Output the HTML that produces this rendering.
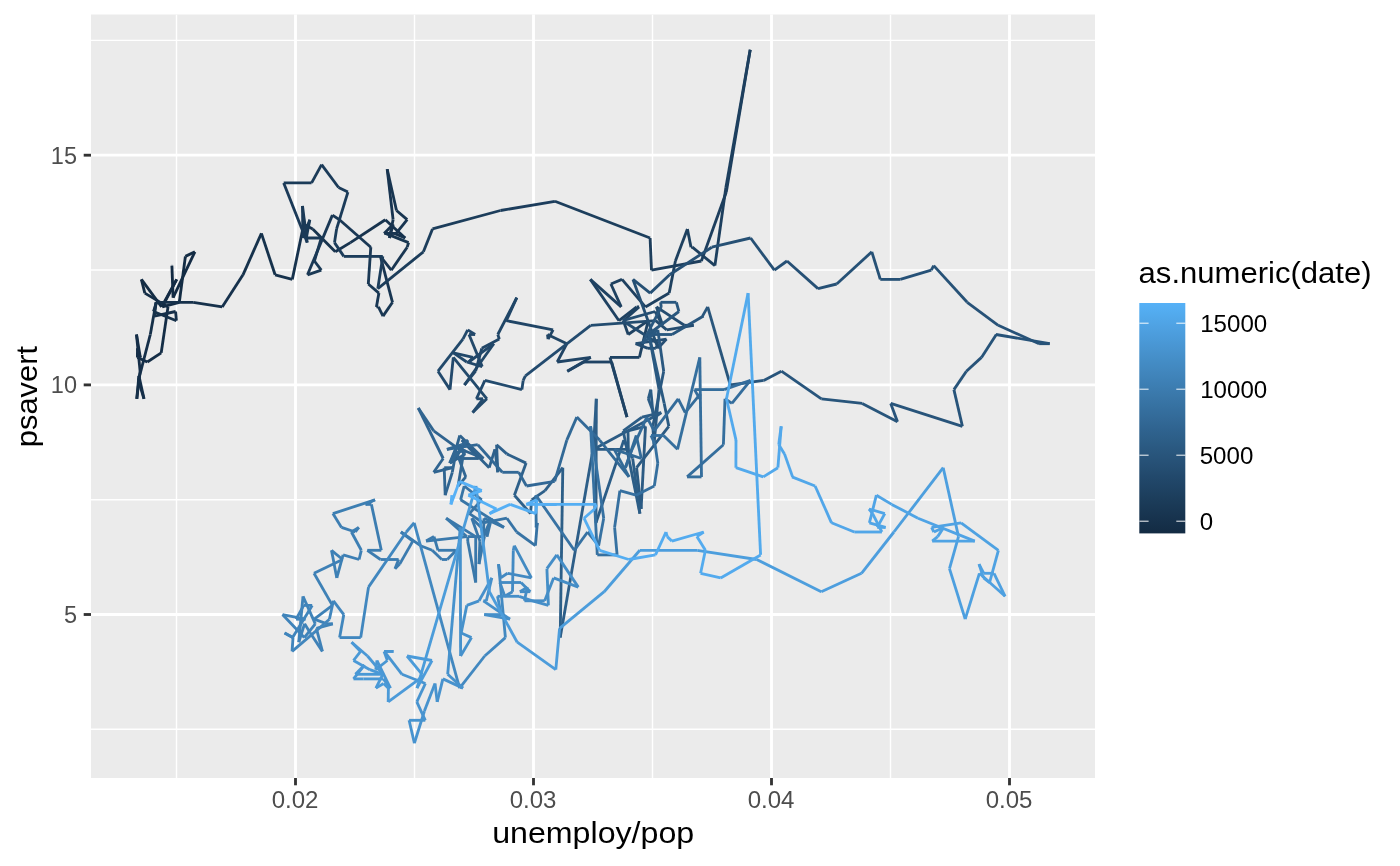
<!DOCTYPE html>
<html><head><meta charset="utf-8"><title>plot</title>
<style>
html,body{margin:0;padding:0;background:#fff;}
body{width:1400px;height:866px;overflow:hidden;position:relative;font-family:"Liberation Sans",sans-serif;}
svg{position:absolute;left:0;top:0;display:block}
.ax{font-size:23.5px;fill:#4d4d4d;}
.ti{font-size:30px;fill:#000;}
.lg{font-size:23.5px;fill:#000;}
</style></head><body>
<svg width="1400" height="866" viewBox="0 0 1400 866" font-family="'Liberation Sans', sans-serif">
<defs>
<linearGradient id="g" x1="0" y1="0" x2="0" y2="1">
<stop offset="0%" stop-color="#56b1f7"/><stop offset="5%" stop-color="#52aaed"/><stop offset="10%" stop-color="#4fa2e3"/><stop offset="15%" stop-color="#4b9bda"/><stop offset="20%" stop-color="#4894d0"/><stop offset="25%" stop-color="#448dc6"/><stop offset="30%" stop-color="#4186bd"/><stop offset="35%" stop-color="#3d7fb4"/><stop offset="40%" stop-color="#3a78aa"/><stop offset="45%" stop-color="#3671a1"/><stop offset="50%" stop-color="#336a98"/><stop offset="55%" stop-color="#2f638f"/><stop offset="60%" stop-color="#2c5d86"/><stop offset="65%" stop-color="#29567d"/><stop offset="70%" stop-color="#265075"/><stop offset="75%" stop-color="#22496c"/><stop offset="80%" stop-color="#1f4364"/><stop offset="85%" stop-color="#1c3d5b"/><stop offset="90%" stop-color="#193753"/><stop offset="95%" stop-color="#16314b"/><stop offset="100%" stop-color="#132b43"/>
</linearGradient>
<clipPath id="cp"><rect x="91" y="14.5" width="1004" height="763.5"/></clipPath>
</defs>
<rect x="0" y="0" width="1400" height="866" fill="#ffffff"/>
<rect x="91" y="14.5" width="1004" height="763.5" fill="#ebebeb"/>
<g stroke="#ffffff" stroke-width="1.42" clip-path="url(#cp)" >
<line x1="91" x2="1095" y1="40.4" y2="40.4"/>
<line x1="91" x2="1095" y1="270" y2="270"/>
<line x1="91" x2="1095" y1="499.7" y2="499.7"/>
<line x1="91" x2="1095" y1="729.3" y2="729.3"/>
<line y1="14.5" y2="778" x1="176.5" x2="176.5"/>
<line y1="14.5" y2="778" x1="414.5" x2="414.5"/>
<line y1="14.5" y2="778" x1="652.5" x2="652.5"/>
<line y1="14.5" y2="778" x1="890.5" x2="890.5"/>
</g>
<g stroke="#ffffff" stroke-width="2.84">
<line x1="91" x2="1095" y1="155.2" y2="155.2"/>
<line x1="91" x2="1095" y1="384.9" y2="384.9"/>
<line x1="91" x2="1095" y1="614.5" y2="614.5"/>
<line y1="14.5" y2="778" x1="295.5" x2="295.5"/>
<line y1="14.5" y2="778" x1="533.5" x2="533.5"/>
<line y1="14.5" y2="778" x1="771.5" x2="771.5"/>
<line y1="14.5" y2="778" x1="1009.5" x2="1009.5"/>
</g>
<g stroke="#333333" stroke-width="2.84">
<line x1="83.7" x2="91" y1="155.2" y2="155.2"/>
<line x1="83.7" x2="91" y1="384.9" y2="384.9"/>
<line x1="83.7" x2="91" y1="614.5" y2="614.5"/>
<line y1="778" y2="785.3" x1="295.5" x2="295.5"/>
<line y1="778" y2="785.3" x1="533.5" x2="533.5"/>
<line y1="778" y2="785.3" x1="771.5" x2="771.5"/>
<line y1="778" y2="785.3" x1="1009.5" x2="1009.5"/>
</g>
<g class="ax" text-anchor="end">
<text x="77" y="163.7">15</text>
<text x="77" y="393.4">10</text>
<text x="77" y="623">5</text>
</g>
<g class="ax" text-anchor="middle">
<text x="295.1" y="807.9" textLength="46.8" lengthAdjust="spacingAndGlyphs">0.02</text>
<text x="533.1" y="807.9" textLength="46.8" lengthAdjust="spacingAndGlyphs">0.03</text>
<text x="771.1" y="807.9" textLength="46.8" lengthAdjust="spacingAndGlyphs">0.04</text>
<text x="1009.1" y="807.9" textLength="46.8" lengthAdjust="spacingAndGlyphs">0.05</text>
</g>
<text class="ti" x="492.2" y="842.9" textLength="202" lengthAdjust="spacingAndGlyphs">unemploy/pop</text>
<text class="ti" transform="translate(37.0,447.3) rotate(-90)" textLength="101.5" lengthAdjust="spacingAndGlyphs">psavert</text>
<text class="ti" x="1138.6" y="283.3" textLength="233" lengthAdjust="spacingAndGlyphs">as.numeric(date)</text>
<rect x="1139.3" y="303" width="46" height="230.4" fill="url(#g)"/>
<g stroke="#ffffff" stroke-width="1.07" opacity="0.9">
<line x1="1139.4" x2="1148.6" y1="323.2" y2="323.2"/><line x1="1176.3" x2="1185.5" y1="323.2" y2="323.2"/>
<line x1="1139.4" x2="1148.6" y1="389.2" y2="389.2"/><line x1="1176.3" x2="1185.5" y1="389.2" y2="389.2"/>
<line x1="1139.4" x2="1148.6" y1="455.2" y2="455.2"/><line x1="1176.3" x2="1185.5" y1="455.2" y2="455.2"/>
<line x1="1139.4" x2="1148.6" y1="521.2" y2="521.2"/><line x1="1176.3" x2="1185.5" y1="521.2" y2="521.2"/>
</g>
<g class="lg">
<text x="1200.2" y="331.9" textLength="67" lengthAdjust="spacingAndGlyphs">15000</text>
<text x="1200.2" y="397.9" textLength="67" lengthAdjust="spacingAndGlyphs">10000</text>
<text x="1199.7" y="463.8" textLength="53.6" lengthAdjust="spacingAndGlyphs">5000</text>
<text x="1199.7" y="529.7" textLength="13.4" lengthAdjust="spacingAndGlyphs">0</text>
</g>
<g stroke-width="2.84" stroke-linecap="butt" fill="none" clip-path="url(#cp)">
<line x1="172.1" y1="265.6" x2="171.9" y2="265.6" stroke="#132b43"/>
<line x1="171.9" y1="265.6" x2="173.1" y2="297.7" stroke="#132b43"/>
<line x1="173.1" y1="297.7" x2="194.9" y2="251.8" stroke="#132b44"/>
<line x1="194.9" y1="251.8" x2="185.4" y2="256.4" stroke="#132c44"/>
<line x1="185.4" y1="256.4" x2="179.3" y2="302.3" stroke="#132c44"/>
<line x1="179.3" y1="302.3" x2="162.3" y2="306.9" stroke="#142c44"/>
<line x1="162.3" y1="306.9" x2="176.7" y2="279.4" stroke="#142c45"/>
<line x1="176.7" y1="279.4" x2="161.6" y2="306.9" stroke="#142c45"/>
<line x1="161.6" y1="306.9" x2="141.4" y2="279.4" stroke="#142d45"/>
<line x1="141.4" y1="279.4" x2="144.8" y2="293.1" stroke="#142d45"/>
<line x1="144.8" y1="293.1" x2="168.0" y2="306.9" stroke="#142d46"/>
<line x1="168.0" y1="306.9" x2="161.2" y2="352.9" stroke="#142d46"/>
<line x1="161.2" y1="352.9" x2="147.3" y2="362.0" stroke="#142d46"/>
<line x1="147.3" y1="362.0" x2="137.4" y2="357.4" stroke="#142e47"/>
<line x1="137.4" y1="357.4" x2="137.5" y2="348.3" stroke="#142e47"/>
<line x1="137.5" y1="348.3" x2="140.3" y2="357.4" stroke="#152e47"/>
<line x1="140.3" y1="357.4" x2="136.5" y2="334.5" stroke="#152e47"/>
<line x1="136.5" y1="334.5" x2="140.1" y2="371.2" stroke="#152e48"/>
<line x1="140.1" y1="371.2" x2="136.8" y2="398.8" stroke="#152f48"/>
<line x1="136.8" y1="398.8" x2="138.9" y2="375.8" stroke="#152f48"/>
<line x1="138.9" y1="375.8" x2="144.0" y2="398.8" stroke="#152f49"/>
<line x1="144.0" y1="398.8" x2="138.4" y2="380.4" stroke="#152f49"/>
<line x1="138.4" y1="380.4" x2="150.3" y2="334.5" stroke="#152f49"/>
<line x1="150.3" y1="334.5" x2="156.1" y2="302.3" stroke="#153049"/>
<line x1="156.1" y1="302.3" x2="154.4" y2="316.1" stroke="#16304a"/>
<line x1="154.4" y1="316.1" x2="175.6" y2="311.5" stroke="#16304a"/>
<line x1="175.6" y1="311.5" x2="176.4" y2="320.7" stroke="#16304a"/>
<line x1="176.4" y1="320.7" x2="153.5" y2="311.5" stroke="#16314a"/>
<line x1="153.5" y1="311.5" x2="156.5" y2="302.3" stroke="#16314b"/>
<line x1="156.5" y1="302.3" x2="193.2" y2="302.3" stroke="#16314b"/>
<line x1="193.2" y1="302.3" x2="222.2" y2="306.9" stroke="#16314b"/>
<line x1="222.2" y1="306.9" x2="243.0" y2="274.8" stroke="#16314c"/>
<line x1="243.0" y1="274.8" x2="261.4" y2="233.4" stroke="#16324c"/>
<line x1="261.4" y1="233.4" x2="275.1" y2="274.8" stroke="#16324c"/>
<line x1="275.1" y1="274.8" x2="292.3" y2="279.4" stroke="#17324c"/>
<line x1="292.3" y1="279.4" x2="303.8" y2="224.3" stroke="#17324d"/>
<line x1="303.8" y1="224.3" x2="312.7" y2="228.9" stroke="#17324d"/>
<line x1="312.7" y1="228.9" x2="335.3" y2="251.8" stroke="#17334d"/>
<line x1="335.3" y1="251.8" x2="350.4" y2="242.6" stroke="#17334e"/>
<line x1="350.4" y1="242.6" x2="385.3" y2="219.7" stroke="#17334e"/>
<line x1="385.3" y1="219.7" x2="405.2" y2="238.0" stroke="#17334e"/>
<line x1="405.2" y1="238.0" x2="394.3" y2="233.4" stroke="#17334e"/>
<line x1="394.3" y1="233.4" x2="384.1" y2="233.4" stroke="#17344f"/>
<line x1="384.1" y1="233.4" x2="393.2" y2="224.3" stroke="#18344f"/>
<line x1="393.2" y1="224.3" x2="389.4" y2="238.0" stroke="#18344f"/>
<line x1="389.4" y1="238.0" x2="393.1" y2="219.7" stroke="#183450"/>
<line x1="393.1" y1="219.7" x2="387.2" y2="169.2" stroke="#183450"/>
<line x1="387.2" y1="169.2" x2="396.5" y2="210.5" stroke="#183550"/>
<line x1="396.5" y1="210.5" x2="407.2" y2="219.7" stroke="#183550"/>
<line x1="407.2" y1="219.7" x2="396.1" y2="233.4" stroke="#183551"/>
<line x1="396.1" y1="233.4" x2="385.5" y2="233.4" stroke="#183551"/>
<line x1="385.5" y1="233.4" x2="408.6" y2="242.6" stroke="#183651"/>
<line x1="408.6" y1="242.6" x2="407.2" y2="247.2" stroke="#183651"/>
<line x1="407.2" y1="247.2" x2="391.3" y2="270.2" stroke="#193652"/>
<line x1="391.3" y1="270.2" x2="380.4" y2="256.4" stroke="#193652"/>
<line x1="380.4" y1="256.4" x2="392.5" y2="302.3" stroke="#193652"/>
<line x1="392.5" y1="302.3" x2="383.0" y2="316.1" stroke="#193753"/>
<line x1="383.0" y1="316.1" x2="378.4" y2="306.9" stroke="#193753"/>
<line x1="378.4" y1="306.9" x2="378.0" y2="306.9" stroke="#193753"/>
<line x1="378.0" y1="306.9" x2="376.4" y2="306.9" stroke="#193753"/>
<line x1="376.4" y1="306.9" x2="378.9" y2="293.1" stroke="#193754"/>
<line x1="378.9" y1="293.1" x2="368.3" y2="284.0" stroke="#193854"/>
<line x1="368.3" y1="284.0" x2="370.8" y2="247.2" stroke="#1a3854"/>
<line x1="370.8" y1="247.2" x2="339.5" y2="219.7" stroke="#1a3855"/>
<line x1="339.5" y1="219.7" x2="332.4" y2="215.1" stroke="#1a3855"/>
<line x1="332.4" y1="215.1" x2="307.5" y2="274.8" stroke="#1a3855"/>
<line x1="307.5" y1="274.8" x2="321.3" y2="270.2" stroke="#1a3955"/>
<line x1="321.3" y1="270.2" x2="314.4" y2="261.0" stroke="#1a3956"/>
<line x1="314.4" y1="261.0" x2="321.3" y2="238.0" stroke="#1a3956"/>
<line x1="321.3" y1="238.0" x2="306.3" y2="238.0" stroke="#1a3956"/>
<line x1="306.3" y1="238.0" x2="309.8" y2="219.7" stroke="#1a3a57"/>
<line x1="309.8" y1="219.7" x2="302.9" y2="238.0" stroke="#1a3a57"/>
<line x1="302.9" y1="238.0" x2="302.5" y2="205.9" stroke="#1b3a57"/>
<line x1="302.5" y1="205.9" x2="307.2" y2="242.6" stroke="#1b3a57"/>
<line x1="307.2" y1="242.6" x2="283.7" y2="182.9" stroke="#1b3a58"/>
<line x1="283.7" y1="182.9" x2="311.6" y2="182.9" stroke="#1b3b58"/>
<line x1="311.6" y1="182.9" x2="321.6" y2="164.6" stroke="#1b3b58"/>
<line x1="321.6" y1="164.6" x2="338.6" y2="187.5" stroke="#1b3b59"/>
<line x1="338.6" y1="187.5" x2="347.9" y2="192.1" stroke="#1b3b59"/>
<line x1="347.9" y1="192.1" x2="336.6" y2="228.9" stroke="#1b3b59"/>
<line x1="336.6" y1="228.9" x2="334.5" y2="242.6" stroke="#1b3c59"/>
<line x1="334.5" y1="242.6" x2="343.8" y2="256.4" stroke="#1c3c5a"/>
<line x1="343.8" y1="256.4" x2="368.1" y2="256.4" stroke="#1c3c5a"/>
<line x1="368.1" y1="256.4" x2="382.8" y2="256.4" stroke="#1c3c5a"/>
<line x1="382.8" y1="256.4" x2="377.8" y2="288.6" stroke="#1c3d5b"/>
<line x1="377.8" y1="288.6" x2="423.4" y2="251.8" stroke="#1c3d5b"/>
<line x1="423.4" y1="251.8" x2="432.5" y2="228.9" stroke="#1c3d5b"/>
<line x1="432.5" y1="228.9" x2="500.5" y2="210.5" stroke="#1c3d5b"/>
<line x1="500.5" y1="210.5" x2="554.9" y2="201.3" stroke="#1c3d5c"/>
<line x1="554.9" y1="201.3" x2="650.1" y2="238.0" stroke="#1c3e5c"/>
<line x1="650.1" y1="238.0" x2="651.5" y2="270.2" stroke="#1d3e5c"/>
<line x1="651.5" y1="270.2" x2="701.4" y2="261.0" stroke="#1d3e5d"/>
<line x1="701.4" y1="261.0" x2="726.3" y2="192.1" stroke="#1d3e5d"/>
<line x1="726.3" y1="192.1" x2="750.2" y2="49.7" stroke="#1d3e5d"/>
<line x1="750.2" y1="49.7" x2="725.9" y2="187.5" stroke="#1d3f5e"/>
<line x1="725.9" y1="187.5" x2="714.9" y2="265.6" stroke="#1d3f5e"/>
<line x1="714.9" y1="265.6" x2="692.3" y2="247.2" stroke="#1d3f5e"/>
<line x1="692.3" y1="247.2" x2="691.0" y2="247.2" stroke="#1d3f5e"/>
<line x1="691.0" y1="247.2" x2="687.4" y2="228.9" stroke="#1d405f"/>
<line x1="687.4" y1="228.9" x2="675.4" y2="261.0" stroke="#1e405f"/>
<line x1="675.4" y1="261.0" x2="669.2" y2="293.1" stroke="#1e405f"/>
<line x1="669.2" y1="293.1" x2="645.4" y2="306.9" stroke="#1e4060"/>
<line x1="645.4" y1="306.9" x2="622.0" y2="279.4" stroke="#1e4060"/>
<line x1="622.0" y1="279.4" x2="610.9" y2="284.0" stroke="#1e4160"/>
<line x1="610.9" y1="284.0" x2="621.2" y2="306.9" stroke="#1e4160"/>
<line x1="621.2" y1="306.9" x2="590.3" y2="279.4" stroke="#1e4161"/>
<line x1="590.3" y1="279.4" x2="619.0" y2="320.7" stroke="#1e4161"/>
<line x1="619.0" y1="320.7" x2="636.7" y2="306.9" stroke="#1e4161"/>
<line x1="636.7" y1="306.9" x2="639.1" y2="306.9" stroke="#1f4262"/>
<line x1="639.1" y1="306.9" x2="623.4" y2="320.7" stroke="#1f4262"/>
<line x1="623.4" y1="320.7" x2="628.2" y2="334.5" stroke="#1f4262"/>
<line x1="628.2" y1="334.5" x2="648.2" y2="320.7" stroke="#1f4262"/>
<line x1="648.2" y1="320.7" x2="639.4" y2="357.4" stroke="#1f4363"/>
<line x1="639.4" y1="357.4" x2="610.0" y2="357.4" stroke="#1f4363"/>
<line x1="610.0" y1="357.4" x2="627.0" y2="417.1" stroke="#1f4363"/>
<line x1="627.0" y1="417.1" x2="611.6" y2="362.0" stroke="#1f4364"/>
<line x1="611.6" y1="362.0" x2="584.0" y2="362.0" stroke="#1f4364"/>
<line x1="584.0" y1="362.0" x2="567.3" y2="371.2" stroke="#1f4464"/>
<line x1="567.3" y1="371.2" x2="590.8" y2="357.4" stroke="#204465"/>
<line x1="590.8" y1="357.4" x2="557.2" y2="362.0" stroke="#204465"/>
<line x1="557.2" y1="362.0" x2="566.9" y2="343.7" stroke="#204465"/>
<line x1="566.9" y1="343.7" x2="547.5" y2="334.5" stroke="#204565"/>
<line x1="547.5" y1="334.5" x2="548.1" y2="339.1" stroke="#204566"/>
<line x1="548.1" y1="339.1" x2="553.1" y2="329.9" stroke="#204566"/>
<line x1="553.1" y1="329.9" x2="506.3" y2="320.7" stroke="#204566"/>
<line x1="506.3" y1="320.7" x2="516.8" y2="297.7" stroke="#204567"/>
<line x1="516.8" y1="297.7" x2="497.8" y2="334.5" stroke="#204667"/>
<line x1="497.8" y1="334.5" x2="499.3" y2="339.1" stroke="#214667"/>
<line x1="499.3" y1="339.1" x2="481.8" y2="348.3" stroke="#214667"/>
<line x1="481.8" y1="348.3" x2="475.6" y2="371.2" stroke="#214668"/>
<line x1="475.6" y1="371.2" x2="464.4" y2="385.0" stroke="#214668"/>
<line x1="464.4" y1="385.0" x2="493.8" y2="343.7" stroke="#214768"/>
<line x1="493.8" y1="343.7" x2="468.8" y2="362.0" stroke="#214769"/>
<line x1="468.8" y1="362.0" x2="473.0" y2="357.4" stroke="#214769"/>
<line x1="473.0" y1="357.4" x2="453.4" y2="352.9" stroke="#214769"/>
<line x1="453.4" y1="352.9" x2="466.7" y2="362.0" stroke="#21486a"/>
<line x1="466.7" y1="362.0" x2="482.2" y2="366.6" stroke="#22486a"/>
<line x1="482.2" y1="366.6" x2="469.0" y2="334.5" stroke="#22486a"/>
<line x1="469.0" y1="334.5" x2="475.1" y2="334.5" stroke="#22486a"/>
<line x1="475.1" y1="334.5" x2="467.7" y2="329.9" stroke="#22486b"/>
<line x1="467.7" y1="329.9" x2="462.9" y2="339.1" stroke="#22496b"/>
<line x1="462.9" y1="339.1" x2="438.0" y2="371.2" stroke="#22496b"/>
<line x1="438.0" y1="371.2" x2="450.0" y2="389.6" stroke="#22496c"/>
<line x1="450.0" y1="389.6" x2="453.3" y2="357.4" stroke="#22496c"/>
<line x1="453.3" y1="357.4" x2="486.9" y2="398.8" stroke="#224a6c"/>
<line x1="486.9" y1="398.8" x2="472.6" y2="412.6" stroke="#234a6c"/>
<line x1="472.6" y1="412.6" x2="483.1" y2="398.8" stroke="#234a6d"/>
<line x1="483.1" y1="398.8" x2="476.4" y2="398.8" stroke="#234a6d"/>
<line x1="476.4" y1="398.8" x2="484.9" y2="380.4" stroke="#234a6d"/>
<line x1="484.9" y1="380.4" x2="521.9" y2="389.6" stroke="#234b6e"/>
<line x1="521.9" y1="389.6" x2="523.2" y2="380.4" stroke="#234b6e"/>
<line x1="523.2" y1="380.4" x2="525.4" y2="375.8" stroke="#234b6e"/>
<line x1="525.4" y1="375.8" x2="590.7" y2="325.3" stroke="#234b6f"/>
<line x1="590.7" y1="325.3" x2="655.6" y2="320.7" stroke="#234c6f"/>
<line x1="655.6" y1="320.7" x2="666.7" y2="329.9" stroke="#244c6f"/>
<line x1="666.7" y1="329.9" x2="693.7" y2="325.3" stroke="#244c6f"/>
<line x1="693.7" y1="325.3" x2="684.3" y2="325.3" stroke="#244c70"/>
<line x1="684.3" y1="325.3" x2="656.4" y2="306.9" stroke="#244c70"/>
<line x1="656.4" y1="306.9" x2="662.6" y2="325.3" stroke="#244d70"/>
<line x1="662.6" y1="325.3" x2="655.1" y2="311.5" stroke="#244d71"/>
<line x1="655.1" y1="311.5" x2="622.6" y2="320.7" stroke="#244d71"/>
<line x1="622.6" y1="320.7" x2="658.6" y2="343.7" stroke="#244d71"/>
<line x1="658.6" y1="343.7" x2="655.8" y2="348.3" stroke="#244e72"/>
<line x1="655.8" y1="348.3" x2="648.0" y2="348.3" stroke="#254e72"/>
<line x1="648.0" y1="348.3" x2="635.6" y2="343.7" stroke="#254e72"/>
<line x1="635.6" y1="343.7" x2="666.5" y2="339.1" stroke="#254e72"/>
<line x1="666.5" y1="339.1" x2="658.0" y2="348.3" stroke="#254e73"/>
<line x1="658.0" y1="348.3" x2="633.0" y2="279.4" stroke="#254f73"/>
<line x1="633.0" y1="279.4" x2="650.2" y2="293.1" stroke="#254f73"/>
<line x1="650.2" y1="293.1" x2="669.6" y2="274.8" stroke="#254f74"/>
<line x1="669.6" y1="274.8" x2="711.8" y2="247.2" stroke="#254f74"/>
<line x1="711.8" y1="247.2" x2="750.6" y2="238.0" stroke="#265074"/>
<line x1="750.6" y1="238.0" x2="774.4" y2="270.2" stroke="#265075"/>
<line x1="774.4" y1="270.2" x2="787.0" y2="261.0" stroke="#265075"/>
<line x1="787.0" y1="261.0" x2="818.0" y2="288.6" stroke="#265075"/>
<line x1="818.0" y1="288.6" x2="836.7" y2="284.0" stroke="#265075"/>
<line x1="836.7" y1="284.0" x2="871.8" y2="251.8" stroke="#265176"/>
<line x1="871.8" y1="251.8" x2="880.3" y2="279.4" stroke="#265176"/>
<line x1="880.3" y1="279.4" x2="900.3" y2="279.4" stroke="#265176"/>
<line x1="900.3" y1="279.4" x2="931.3" y2="270.2" stroke="#265177"/>
<line x1="931.3" y1="270.2" x2="933.7" y2="265.6" stroke="#275277"/>
<line x1="933.7" y1="265.6" x2="967.2" y2="302.3" stroke="#275277"/>
<line x1="967.2" y1="302.3" x2="998.2" y2="325.3" stroke="#275278"/>
<line x1="998.2" y1="325.3" x2="1039.1" y2="343.7" stroke="#275278"/>
<line x1="1039.1" y1="343.7" x2="1049.7" y2="343.7" stroke="#275378"/>
<line x1="1049.7" y1="343.7" x2="996.0" y2="334.5" stroke="#275379"/>
<line x1="996.0" y1="334.5" x2="996.3" y2="334.5" stroke="#275379"/>
<line x1="996.3" y1="334.5" x2="981.5" y2="357.4" stroke="#275379"/>
<line x1="981.5" y1="357.4" x2="966.4" y2="371.2" stroke="#275379"/>
<line x1="966.4" y1="371.2" x2="953.9" y2="389.6" stroke="#28547a"/>
<line x1="953.9" y1="389.6" x2="962.4" y2="426.3" stroke="#28547a"/>
<line x1="962.4" y1="426.3" x2="890.7" y2="403.4" stroke="#28547a"/>
<line x1="890.7" y1="403.4" x2="897.5" y2="421.7" stroke="#28547b"/>
<line x1="897.5" y1="421.7" x2="862.2" y2="403.4" stroke="#28557b"/>
<line x1="862.2" y1="403.4" x2="821.4" y2="398.8" stroke="#28557b"/>
<line x1="821.4" y1="398.8" x2="781.4" y2="371.2" stroke="#28557c"/>
<line x1="781.4" y1="371.2" x2="763.7" y2="380.4" stroke="#28557c"/>
<line x1="763.7" y1="380.4" x2="730.3" y2="385.0" stroke="#28557c"/>
<line x1="730.3" y1="385.0" x2="707.7" y2="306.9" stroke="#29567c"/>
<line x1="707.7" y1="306.9" x2="702.5" y2="316.1" stroke="#29567d"/>
<line x1="702.5" y1="316.1" x2="703.5" y2="316.1" stroke="#29567d"/>
<line x1="703.5" y1="316.1" x2="672.0" y2="334.5" stroke="#29567d"/>
<line x1="672.0" y1="334.5" x2="648.2" y2="334.5" stroke="#29577e"/>
<line x1="648.2" y1="334.5" x2="678.9" y2="311.5" stroke="#29577e"/>
<line x1="678.9" y1="311.5" x2="676.4" y2="302.3" stroke="#29577e"/>
<line x1="676.4" y1="302.3" x2="660.5" y2="302.3" stroke="#29577f"/>
<line x1="660.5" y1="302.3" x2="661.3" y2="306.9" stroke="#29577f"/>
<line x1="661.3" y1="306.9" x2="642.3" y2="343.7" stroke="#2a587f"/>
<line x1="642.3" y1="343.7" x2="657.8" y2="329.9" stroke="#2a5880"/>
<line x1="657.8" y1="329.9" x2="663.7" y2="371.2" stroke="#2a5880"/>
<line x1="663.7" y1="371.2" x2="652.8" y2="426.3" stroke="#2a5880"/>
<line x1="652.8" y1="426.3" x2="654.0" y2="444.7" stroke="#2a5980"/>
<line x1="654.0" y1="444.7" x2="659.0" y2="389.6" stroke="#2a5981"/>
<line x1="659.0" y1="389.6" x2="649.0" y2="334.5" stroke="#2a5981"/>
<line x1="649.0" y1="334.5" x2="664.2" y2="403.4" stroke="#2a5981"/>
<line x1="664.2" y1="403.4" x2="668.8" y2="426.3" stroke="#2a5a82"/>
<line x1="668.8" y1="426.3" x2="636.6" y2="467.7" stroke="#2b5a82"/>
<line x1="636.6" y1="467.7" x2="641.1" y2="509.0" stroke="#2b5a82"/>
<line x1="641.1" y1="509.0" x2="645.5" y2="426.3" stroke="#2b5a83"/>
<line x1="645.5" y1="426.3" x2="628.0" y2="430.9" stroke="#2b5a83"/>
<line x1="628.0" y1="430.9" x2="628.3" y2="449.3" stroke="#2b5b83"/>
<line x1="628.3" y1="449.3" x2="593.7" y2="449.3" stroke="#2b5b84"/>
<line x1="593.7" y1="449.3" x2="653.3" y2="417.1" stroke="#2b5b84"/>
<line x1="653.3" y1="417.1" x2="650.8" y2="389.6" stroke="#2b5b84"/>
<line x1="650.8" y1="389.6" x2="648.3" y2="398.8" stroke="#2c5c84"/>
<line x1="648.3" y1="398.8" x2="655.1" y2="417.1" stroke="#2c5c85"/>
<line x1="655.1" y1="417.1" x2="661.3" y2="412.6" stroke="#2c5c85"/>
<line x1="661.3" y1="412.6" x2="642.0" y2="417.1" stroke="#2c5c85"/>
<line x1="642.0" y1="417.1" x2="623.2" y2="430.9" stroke="#2c5d86"/>
<line x1="623.2" y1="430.9" x2="639.9" y2="513.6" stroke="#2c5d86"/>
<line x1="639.9" y1="513.6" x2="632.7" y2="458.5" stroke="#2c5d86"/>
<line x1="632.7" y1="458.5" x2="623.8" y2="440.1" stroke="#2c5d87"/>
<line x1="623.8" y1="440.1" x2="596.0" y2="522.8" stroke="#2c5d87"/>
<line x1="596.0" y1="522.8" x2="596.3" y2="398.8" stroke="#2d5e87"/>
<line x1="596.3" y1="398.8" x2="593.1" y2="453.9" stroke="#2d5e88"/>
<line x1="593.1" y1="453.9" x2="592.2" y2="453.9" stroke="#2d5e88"/>
<line x1="592.2" y1="453.9" x2="560.2" y2="637.6" stroke="#2d5e88"/>
<line x1="560.2" y1="637.6" x2="562.8" y2="467.7" stroke="#2d5f88"/>
<line x1="562.8" y1="467.7" x2="545.0" y2="490.6" stroke="#2d5f89"/>
<line x1="545.0" y1="490.6" x2="531.7" y2="499.8" stroke="#2d5f89"/>
<line x1="531.7" y1="499.8" x2="530.5" y2="513.6" stroke="#2d5f89"/>
<line x1="530.5" y1="513.6" x2="514.4" y2="495.2" stroke="#2d608a"/>
<line x1="514.4" y1="495.2" x2="526.1" y2="463.1" stroke="#2e608a"/>
<line x1="526.1" y1="463.1" x2="506.8" y2="453.9" stroke="#2e608a"/>
<line x1="506.8" y1="453.9" x2="496.6" y2="444.7" stroke="#2e608b"/>
<line x1="496.6" y1="444.7" x2="497.8" y2="472.3" stroke="#2e608b"/>
<line x1="497.8" y1="472.3" x2="494.9" y2="449.3" stroke="#2e618b"/>
<line x1="494.9" y1="449.3" x2="489.2" y2="467.7" stroke="#2e618c"/>
<line x1="489.2" y1="467.7" x2="461.9" y2="440.1" stroke="#2e618c"/>
<line x1="461.9" y1="440.1" x2="478.8" y2="458.5" stroke="#2e618c"/>
<line x1="478.8" y1="458.5" x2="455.6" y2="458.5" stroke="#2f628c"/>
<line x1="455.6" y1="458.5" x2="460.9" y2="449.3" stroke="#2f628d"/>
<line x1="460.9" y1="449.3" x2="483.5" y2="458.5" stroke="#2f628d"/>
<line x1="483.5" y1="458.5" x2="459.8" y2="435.5" stroke="#2f628d"/>
<line x1="459.8" y1="435.5" x2="455.8" y2="449.3" stroke="#2f638e"/>
<line x1="455.8" y1="449.3" x2="452.3" y2="458.5" stroke="#2f638e"/>
<line x1="452.3" y1="458.5" x2="450.0" y2="463.1" stroke="#2f638e"/>
<line x1="450.0" y1="463.1" x2="465.4" y2="453.9" stroke="#2f638f"/>
<line x1="465.4" y1="453.9" x2="433.7" y2="430.9" stroke="#2f638f"/>
<line x1="433.7" y1="430.9" x2="418.3" y2="408.0" stroke="#30648f"/>
<line x1="418.3" y1="408.0" x2="443.2" y2="458.5" stroke="#306490"/>
<line x1="443.2" y1="458.5" x2="433.7" y2="472.3" stroke="#306490"/>
<line x1="433.7" y1="472.3" x2="452.6" y2="467.7" stroke="#306490"/>
<line x1="452.6" y1="467.7" x2="444.2" y2="467.7" stroke="#306591"/>
<line x1="444.2" y1="467.7" x2="445.2" y2="495.2" stroke="#306591"/>
<line x1="445.2" y1="495.2" x2="452.3" y2="472.3" stroke="#306591"/>
<line x1="452.3" y1="472.3" x2="455.6" y2="453.9" stroke="#306591"/>
<line x1="455.6" y1="453.9" x2="464.2" y2="449.3" stroke="#316692"/>
<line x1="464.2" y1="449.3" x2="458.1" y2="486.0" stroke="#316692"/>
<line x1="458.1" y1="486.0" x2="465.8" y2="476.9" stroke="#316692"/>
<line x1="465.8" y1="476.9" x2="455.4" y2="449.3" stroke="#316693"/>
<line x1="455.4" y1="449.3" x2="449.7" y2="463.1" stroke="#316693"/>
<line x1="449.7" y1="463.1" x2="468.0" y2="440.1" stroke="#316793"/>
<line x1="468.0" y1="440.1" x2="462.0" y2="444.7" stroke="#316794"/>
<line x1="462.0" y1="444.7" x2="446.9" y2="449.3" stroke="#316794"/>
<line x1="446.9" y1="449.3" x2="477.8" y2="444.7" stroke="#316794"/>
<line x1="477.8" y1="444.7" x2="502.3" y2="472.3" stroke="#326895"/>
<line x1="502.3" y1="472.3" x2="518.7" y2="472.3" stroke="#326895"/>
<line x1="518.7" y1="472.3" x2="526.5" y2="486.0" stroke="#326895"/>
<line x1="526.5" y1="486.0" x2="554.7" y2="481.4" stroke="#326896"/>
<line x1="554.7" y1="481.4" x2="566.8" y2="440.1" stroke="#326996"/>
<line x1="566.8" y1="440.1" x2="576.8" y2="417.1" stroke="#326996"/>
<line x1="576.8" y1="417.1" x2="599.6" y2="440.1" stroke="#326997"/>
<line x1="599.6" y1="440.1" x2="629.0" y2="476.9" stroke="#326997"/>
<line x1="629.0" y1="476.9" x2="614.2" y2="449.3" stroke="#326a97"/>
<line x1="614.2" y1="449.3" x2="641.3" y2="458.5" stroke="#336a97"/>
<line x1="641.3" y1="458.5" x2="636.3" y2="435.5" stroke="#336a98"/>
<line x1="636.3" y1="435.5" x2="625.4" y2="467.7" stroke="#336a98"/>
<line x1="625.4" y1="467.7" x2="632.1" y2="449.3" stroke="#336a98"/>
<line x1="632.1" y1="449.3" x2="636.4" y2="440.1" stroke="#336b99"/>
<line x1="636.4" y1="440.1" x2="646.8" y2="417.1" stroke="#336b99"/>
<line x1="646.8" y1="417.1" x2="654.2" y2="430.9" stroke="#336b99"/>
<line x1="654.2" y1="430.9" x2="678.2" y2="398.8" stroke="#336b9a"/>
<line x1="678.2" y1="398.8" x2="685.2" y2="412.6" stroke="#346c9a"/>
<line x1="685.2" y1="412.6" x2="700.1" y2="394.2" stroke="#346c9a"/>
<line x1="700.1" y1="394.2" x2="699.7" y2="398.8" stroke="#346c9b"/>
<line x1="699.7" y1="398.8" x2="694.5" y2="389.6" stroke="#346c9b"/>
<line x1="694.5" y1="389.6" x2="724.1" y2="389.6" stroke="#346d9b"/>
<line x1="724.1" y1="389.6" x2="750.5" y2="380.4" stroke="#346d9c"/>
<line x1="750.5" y1="380.4" x2="731.9" y2="403.4" stroke="#346d9c"/>
<line x1="731.9" y1="403.4" x2="725.0" y2="398.8" stroke="#346d9c"/>
<line x1="725.0" y1="398.8" x2="723.4" y2="444.7" stroke="#346e9d"/>
<line x1="723.4" y1="444.7" x2="687.1" y2="476.9" stroke="#356e9d"/>
<line x1="687.1" y1="476.9" x2="701.5" y2="476.9" stroke="#356e9d"/>
<line x1="701.5" y1="476.9" x2="699.8" y2="357.4" stroke="#356e9d"/>
<line x1="699.8" y1="357.4" x2="677.5" y2="449.3" stroke="#356f9e"/>
<line x1="677.5" y1="449.3" x2="663.5" y2="435.5" stroke="#356f9e"/>
<line x1="663.5" y1="435.5" x2="651.0" y2="435.5" stroke="#356f9e"/>
<line x1="651.0" y1="435.5" x2="655.1" y2="444.7" stroke="#356f9f"/>
<line x1="655.1" y1="444.7" x2="657.8" y2="463.1" stroke="#356f9f"/>
<line x1="657.8" y1="463.1" x2="654.3" y2="486.0" stroke="#36709f"/>
<line x1="654.3" y1="486.0" x2="636.0" y2="495.2" stroke="#3670a0"/>
<line x1="636.0" y1="495.2" x2="619.9" y2="490.6" stroke="#3670a0"/>
<line x1="619.9" y1="490.6" x2="614.6" y2="527.4" stroke="#3670a0"/>
<line x1="614.6" y1="527.4" x2="617.1" y2="554.9" stroke="#3671a1"/>
<line x1="617.1" y1="554.9" x2="597.3" y2="554.9" stroke="#3671a1"/>
<line x1="597.3" y1="554.9" x2="590.6" y2="426.3" stroke="#3671a1"/>
<line x1="590.6" y1="426.3" x2="603.7" y2="518.2" stroke="#3671a2"/>
<line x1="603.7" y1="518.2" x2="598.6" y2="545.7" stroke="#3772a2"/>
<line x1="598.6" y1="545.7" x2="587.6" y2="532.0" stroke="#3772a2"/>
<line x1="587.6" y1="532.0" x2="574.3" y2="550.3" stroke="#3772a3"/>
<line x1="574.3" y1="550.3" x2="535.9" y2="495.2" stroke="#3772a3"/>
<line x1="535.9" y1="495.2" x2="536.2" y2="527.4" stroke="#3773a3"/>
<line x1="536.2" y1="527.4" x2="537.3" y2="522.8" stroke="#3773a4"/>
<line x1="537.3" y1="522.8" x2="535.4" y2="545.7" stroke="#3773a4"/>
<line x1="535.4" y1="545.7" x2="516.7" y2="532.0" stroke="#3773a4"/>
<line x1="516.7" y1="532.0" x2="506.9" y2="518.2" stroke="#3773a5"/>
<line x1="506.9" y1="518.2" x2="483.1" y2="522.8" stroke="#3874a5"/>
<line x1="483.1" y1="522.8" x2="469.4" y2="513.6" stroke="#3874a5"/>
<line x1="469.4" y1="513.6" x2="481.7" y2="499.8" stroke="#3874a5"/>
<line x1="481.7" y1="499.8" x2="464.2" y2="486.0" stroke="#3874a6"/>
<line x1="464.2" y1="486.0" x2="460.6" y2="499.8" stroke="#3875a6"/>
<line x1="460.6" y1="499.8" x2="504.0" y2="527.4" stroke="#3875a6"/>
<line x1="504.0" y1="527.4" x2="484.1" y2="518.2" stroke="#3875a7"/>
<line x1="484.1" y1="518.2" x2="483.2" y2="536.6" stroke="#3875a7"/>
<line x1="483.2" y1="536.6" x2="491.5" y2="518.2" stroke="#3976a7"/>
<line x1="491.5" y1="518.2" x2="487.0" y2="536.6" stroke="#3976a8"/>
<line x1="487.0" y1="536.6" x2="485.8" y2="532.0" stroke="#3976a8"/>
<line x1="485.8" y1="532.0" x2="471.8" y2="518.2" stroke="#3976a8"/>
<line x1="471.8" y1="518.2" x2="479.9" y2="541.1" stroke="#3977a9"/>
<line x1="479.9" y1="541.1" x2="479.0" y2="564.1" stroke="#3977a9"/>
<line x1="479.0" y1="564.1" x2="484.4" y2="536.6" stroke="#3977a9"/>
<line x1="484.4" y1="536.6" x2="467.9" y2="536.6" stroke="#3977aa"/>
<line x1="467.9" y1="536.6" x2="467.7" y2="541.1" stroke="#3978aa"/>
<line x1="467.7" y1="541.1" x2="475.7" y2="582.5" stroke="#3a78aa"/>
<line x1="475.7" y1="582.5" x2="475.7" y2="536.6" stroke="#3a78ab"/>
<line x1="475.7" y1="536.6" x2="446.1" y2="518.2" stroke="#3a78ab"/>
<line x1="446.1" y1="518.2" x2="466.8" y2="536.6" stroke="#3a79ab"/>
<line x1="466.8" y1="536.6" x2="426.1" y2="541.1" stroke="#3a79ac"/>
<line x1="426.1" y1="541.1" x2="434.0" y2="536.6" stroke="#3a79ac"/>
<line x1="434.0" y1="536.6" x2="438.0" y2="550.3" stroke="#3a79ac"/>
<line x1="438.0" y1="550.3" x2="455.4" y2="550.3" stroke="#3a7aad"/>
<line x1="455.4" y1="550.3" x2="456.3" y2="550.3" stroke="#3b7aad"/>
<line x1="456.3" y1="550.3" x2="447.3" y2="559.5" stroke="#3b7aad"/>
<line x1="447.3" y1="559.5" x2="441.8" y2="559.5" stroke="#3b7aae"/>
<line x1="441.8" y1="559.5" x2="432.2" y2="550.3" stroke="#3b7aae"/>
<line x1="432.2" y1="550.3" x2="420.5" y2="545.7" stroke="#3b7bae"/>
<line x1="420.5" y1="545.7" x2="400.9" y2="532.0" stroke="#3b7baf"/>
<line x1="400.9" y1="532.0" x2="412.8" y2="541.1" stroke="#3b7baf"/>
<line x1="412.8" y1="541.1" x2="399.7" y2="564.1" stroke="#3b7baf"/>
<line x1="399.7" y1="564.1" x2="395.0" y2="568.7" stroke="#3c7caf"/>
<line x1="395.0" y1="568.7" x2="398.6" y2="559.5" stroke="#3c7cb0"/>
<line x1="398.6" y1="559.5" x2="380.5" y2="559.5" stroke="#3c7cb0"/>
<line x1="380.5" y1="559.5" x2="367.3" y2="550.3" stroke="#3c7cb0"/>
<line x1="367.3" y1="550.3" x2="381.3" y2="550.3" stroke="#3c7db1"/>
<line x1="381.3" y1="550.3" x2="371.4" y2="504.4" stroke="#3c7db1"/>
<line x1="371.4" y1="504.4" x2="365.5" y2="504.4" stroke="#3c7db1"/>
<line x1="365.5" y1="504.4" x2="375.0" y2="499.8" stroke="#3c7db2"/>
<line x1="375.0" y1="499.8" x2="332.9" y2="513.6" stroke="#3c7eb2"/>
<line x1="332.9" y1="513.6" x2="341.5" y2="527.4" stroke="#3d7eb2"/>
<line x1="341.5" y1="527.4" x2="355.3" y2="532.0" stroke="#3d7eb3"/>
<line x1="355.3" y1="532.0" x2="358.8" y2="527.4" stroke="#3d7eb3"/>
<line x1="358.8" y1="527.4" x2="351.4" y2="532.0" stroke="#3d7fb3"/>
<line x1="351.4" y1="532.0" x2="361.3" y2="550.3" stroke="#3d7fb4"/>
<line x1="361.3" y1="550.3" x2="359.1" y2="559.5" stroke="#3d7fb4"/>
<line x1="359.1" y1="559.5" x2="343.1" y2="554.9" stroke="#3d7fb4"/>
<line x1="343.1" y1="554.9" x2="336.8" y2="577.9" stroke="#3d80b5"/>
<line x1="336.8" y1="577.9" x2="331.5" y2="550.3" stroke="#3e80b5"/>
<line x1="331.5" y1="550.3" x2="342.6" y2="559.5" stroke="#3e80b5"/>
<line x1="342.6" y1="559.5" x2="314.0" y2="573.3" stroke="#3e80b6"/>
<line x1="314.0" y1="573.3" x2="332.4" y2="605.4" stroke="#3e81b6"/>
<line x1="332.4" y1="605.4" x2="314.2" y2="619.2" stroke="#3e81b6"/>
<line x1="314.2" y1="619.2" x2="326.9" y2="623.8" stroke="#3e81b7"/>
<line x1="326.9" y1="623.8" x2="332.8" y2="623.8" stroke="#3e81b7"/>
<line x1="332.8" y1="623.8" x2="316.4" y2="628.4" stroke="#3e82b7"/>
<line x1="316.4" y1="628.4" x2="322.4" y2="651.4" stroke="#3f82b8"/>
<line x1="322.4" y1="651.4" x2="310.3" y2="633.0" stroke="#3f82b8"/>
<line x1="310.3" y1="633.0" x2="304.6" y2="623.8" stroke="#3f82b8"/>
<line x1="304.6" y1="623.8" x2="298.8" y2="642.2" stroke="#3f82b9"/>
<line x1="298.8" y1="642.2" x2="303.0" y2="596.3" stroke="#3f83b9"/>
<line x1="303.0" y1="596.3" x2="315.3" y2="623.8" stroke="#3f83b9"/>
<line x1="315.3" y1="623.8" x2="304.3" y2="637.6" stroke="#3f83ba"/>
<line x1="304.3" y1="637.6" x2="282.5" y2="614.6" stroke="#3f83ba"/>
<line x1="282.5" y1="614.6" x2="305.5" y2="619.2" stroke="#4084ba"/>
<line x1="305.5" y1="619.2" x2="296.1" y2="619.2" stroke="#4084bb"/>
<line x1="296.1" y1="619.2" x2="303.7" y2="605.4" stroke="#4084bb"/>
<line x1="303.7" y1="605.4" x2="312.2" y2="605.4" stroke="#4084bb"/>
<line x1="312.2" y1="605.4" x2="292.6" y2="637.6" stroke="#4085bc"/>
<line x1="292.6" y1="637.6" x2="284.6" y2="633.0" stroke="#4085bc"/>
<line x1="284.6" y1="633.0" x2="293.0" y2="637.6" stroke="#4085bc"/>
<line x1="293.0" y1="637.6" x2="292.1" y2="651.4" stroke="#4085bd"/>
<line x1="292.1" y1="651.4" x2="324.3" y2="623.8" stroke="#4186bd"/>
<line x1="324.3" y1="623.8" x2="329.4" y2="619.2" stroke="#4186bd"/>
<line x1="329.4" y1="619.2" x2="333.4" y2="600.8" stroke="#4186be"/>
<line x1="333.4" y1="600.8" x2="343.8" y2="614.6" stroke="#4186be"/>
<line x1="343.8" y1="614.6" x2="339.6" y2="637.6" stroke="#4187be"/>
<line x1="339.6" y1="637.6" x2="360.7" y2="637.6" stroke="#4187bf"/>
<line x1="360.7" y1="637.6" x2="368.5" y2="587.1" stroke="#4187bf"/>
<line x1="368.5" y1="587.1" x2="406.3" y2="532.0" stroke="#4187bf"/>
<line x1="406.3" y1="532.0" x2="414.2" y2="522.8" stroke="#4188c0"/>
<line x1="414.2" y1="522.8" x2="459.6" y2="688.1" stroke="#4288c0"/>
<line x1="459.6" y1="688.1" x2="484.7" y2="656.0" stroke="#4288c0"/>
<line x1="484.7" y1="656.0" x2="505.4" y2="637.6" stroke="#4288c1"/>
<line x1="505.4" y1="637.6" x2="498.5" y2="564.1" stroke="#4289c1"/>
<line x1="498.5" y1="564.1" x2="500.7" y2="577.9" stroke="#4289c1"/>
<line x1="500.7" y1="577.9" x2="507.5" y2="573.3" stroke="#4289c2"/>
<line x1="507.5" y1="573.3" x2="531.4" y2="577.9" stroke="#4289c2"/>
<line x1="531.4" y1="577.9" x2="514.3" y2="545.7" stroke="#428ac2"/>
<line x1="514.3" y1="545.7" x2="513.3" y2="550.3" stroke="#438ac3"/>
<line x1="513.3" y1="550.3" x2="512.5" y2="591.7" stroke="#438ac3"/>
<line x1="512.5" y1="591.7" x2="504.8" y2="596.3" stroke="#438ac3"/>
<line x1="504.8" y1="596.3" x2="499.9" y2="582.5" stroke="#438bc4"/>
<line x1="499.9" y1="582.5" x2="504.0" y2="582.5" stroke="#438bc4"/>
<line x1="504.0" y1="582.5" x2="521.0" y2="582.5" stroke="#438bc4"/>
<line x1="521.0" y1="582.5" x2="530.3" y2="591.7" stroke="#438bc4"/>
<line x1="530.3" y1="591.7" x2="519.9" y2="591.7" stroke="#438cc5"/>
<line x1="519.9" y1="591.7" x2="527.4" y2="587.1" stroke="#448cc5"/>
<line x1="527.4" y1="587.1" x2="524.4" y2="600.8" stroke="#448cc5"/>
<line x1="524.4" y1="600.8" x2="544.7" y2="600.8" stroke="#448cc6"/>
<line x1="544.7" y1="600.8" x2="553.6" y2="577.9" stroke="#448dc6"/>
<line x1="553.6" y1="577.9" x2="578.3" y2="587.1" stroke="#448dc6"/>
<line x1="578.3" y1="587.1" x2="556.8" y2="554.9" stroke="#448dc7"/>
<line x1="556.8" y1="554.9" x2="546.9" y2="568.7" stroke="#448dc7"/>
<line x1="546.9" y1="568.7" x2="548.4" y2="605.4" stroke="#448ec7"/>
<line x1="548.4" y1="605.4" x2="532.4" y2="600.8" stroke="#458ec8"/>
<line x1="532.4" y1="600.8" x2="519.1" y2="596.3" stroke="#458ec8"/>
<line x1="519.1" y1="596.3" x2="497.5" y2="596.3" stroke="#458ec8"/>
<line x1="497.5" y1="596.3" x2="501.3" y2="614.6" stroke="#458fc9"/>
<line x1="501.3" y1="614.6" x2="484.2" y2="614.6" stroke="#458fc9"/>
<line x1="484.2" y1="614.6" x2="510.0" y2="619.2" stroke="#458fc9"/>
<line x1="510.0" y1="619.2" x2="483.4" y2="600.8" stroke="#458fca"/>
<line x1="483.4" y1="600.8" x2="486.3" y2="600.8" stroke="#4590ca"/>
<line x1="486.3" y1="600.8" x2="491.8" y2="577.9" stroke="#4690ca"/>
<line x1="491.8" y1="577.9" x2="479.1" y2="600.8" stroke="#4690cb"/>
<line x1="479.1" y1="600.8" x2="466.8" y2="605.4" stroke="#4690cb"/>
<line x1="466.8" y1="605.4" x2="461.2" y2="633.0" stroke="#4691cb"/>
<line x1="461.2" y1="633.0" x2="471.5" y2="637.6" stroke="#4691cc"/>
<line x1="471.5" y1="637.6" x2="460.6" y2="656.0" stroke="#4691cc"/>
<line x1="460.6" y1="656.0" x2="460.3" y2="527.4" stroke="#4691cc"/>
<line x1="460.3" y1="527.4" x2="447.7" y2="674.3" stroke="#4692cd"/>
<line x1="447.7" y1="674.3" x2="463.0" y2="688.1" stroke="#4792cd"/>
<line x1="463.0" y1="688.1" x2="442.9" y2="678.9" stroke="#4792cd"/>
<line x1="442.9" y1="678.9" x2="437.2" y2="701.9" stroke="#4792ce"/>
<line x1="437.2" y1="701.9" x2="435.0" y2="683.5" stroke="#4793ce"/>
<line x1="435.0" y1="683.5" x2="424.4" y2="711.1" stroke="#4793ce"/>
<line x1="424.4" y1="711.1" x2="414.4" y2="743.2" stroke="#4793cf"/>
<line x1="414.4" y1="743.2" x2="409.1" y2="720.3" stroke="#4793cf"/>
<line x1="409.1" y1="720.3" x2="425.3" y2="720.3" stroke="#4794cf"/>
<line x1="425.3" y1="720.3" x2="416.8" y2="701.9" stroke="#4894d0"/>
<line x1="416.8" y1="701.9" x2="425.4" y2="683.5" stroke="#4894d0"/>
<line x1="425.4" y1="683.5" x2="402.0" y2="674.3" stroke="#4894d0"/>
<line x1="402.0" y1="674.3" x2="384.3" y2="651.4" stroke="#4895d1"/>
<line x1="384.3" y1="651.4" x2="393.5" y2="651.4" stroke="#4895d1"/>
<line x1="393.5" y1="651.4" x2="384.1" y2="651.4" stroke="#4895d2"/>
<line x1="384.1" y1="651.4" x2="387.4" y2="660.5" stroke="#4895d2"/>
<line x1="387.4" y1="660.5" x2="375.8" y2="669.7" stroke="#4896d2"/>
<line x1="375.8" y1="669.7" x2="377.0" y2="660.5" stroke="#4996d3"/>
<line x1="377.0" y1="660.5" x2="390.4" y2="688.1" stroke="#4996d3"/>
<line x1="390.4" y1="688.1" x2="383.3" y2="678.9" stroke="#4996d3"/>
<line x1="383.3" y1="678.9" x2="363.4" y2="678.9" stroke="#4997d4"/>
<line x1="363.4" y1="678.9" x2="353.5" y2="678.9" stroke="#4997d4"/>
<line x1="353.5" y1="678.9" x2="364.5" y2="665.1" stroke="#4997d4"/>
<line x1="364.5" y1="665.1" x2="355.4" y2="674.3" stroke="#4997d5"/>
<line x1="355.4" y1="674.3" x2="383.0" y2="674.3" stroke="#4998d5"/>
<line x1="383.0" y1="674.3" x2="367.5" y2="656.0" stroke="#4a98d5"/>
<line x1="367.5" y1="656.0" x2="351.6" y2="642.2" stroke="#4a98d6"/>
<line x1="351.6" y1="642.2" x2="360.6" y2="651.4" stroke="#4a98d6"/>
<line x1="360.6" y1="651.4" x2="353.5" y2="660.5" stroke="#4a99d6"/>
<line x1="353.5" y1="660.5" x2="369.9" y2="669.7" stroke="#4a99d7"/>
<line x1="369.9" y1="669.7" x2="382.8" y2="674.3" stroke="#4a99d7"/>
<line x1="382.8" y1="674.3" x2="375.9" y2="688.1" stroke="#4a99d7"/>
<line x1="375.9" y1="688.1" x2="383.6" y2="683.5" stroke="#4a9ad8"/>
<line x1="383.6" y1="683.5" x2="388.4" y2="688.1" stroke="#4a9ad8"/>
<line x1="388.4" y1="688.1" x2="388.2" y2="701.9" stroke="#4b9ad8"/>
<line x1="388.2" y1="701.9" x2="419.5" y2="678.9" stroke="#4b9ad9"/>
<line x1="419.5" y1="678.9" x2="422.1" y2="674.3" stroke="#4b9bd9"/>
<line x1="422.1" y1="674.3" x2="407.0" y2="656.0" stroke="#4b9bd9"/>
<line x1="407.0" y1="656.0" x2="432.0" y2="660.5" stroke="#4b9bda"/>
<line x1="432.0" y1="660.5" x2="417.0" y2="688.1" stroke="#4b9bda"/>
<line x1="417.0" y1="688.1" x2="475.9" y2="486.0" stroke="#4b9cda"/>
<line x1="475.9" y1="486.0" x2="489.4" y2="591.7" stroke="#4b9cdb"/>
<line x1="489.4" y1="591.7" x2="517.2" y2="642.2" stroke="#4c9cdb"/>
<line x1="517.2" y1="642.2" x2="555.8" y2="669.7" stroke="#4c9cdb"/>
<line x1="555.8" y1="669.7" x2="559.6" y2="628.4" stroke="#4c9ddc"/>
<line x1="559.6" y1="628.4" x2="604.2" y2="591.7" stroke="#4c9ddc"/>
<line x1="604.2" y1="591.7" x2="639.8" y2="550.3" stroke="#4c9ddc"/>
<line x1="639.8" y1="550.3" x2="697.3" y2="550.3" stroke="#4c9ddd"/>
<line x1="697.3" y1="550.3" x2="756.7" y2="559.5" stroke="#4c9edd"/>
<line x1="756.7" y1="559.5" x2="821.3" y2="591.7" stroke="#4d9edd"/>
<line x1="821.3" y1="591.7" x2="861.5" y2="573.3" stroke="#4d9ede"/>
<line x1="861.5" y1="573.3" x2="893.9" y2="532.0" stroke="#4d9ede"/>
<line x1="893.9" y1="532.0" x2="943.2" y2="467.7" stroke="#4d9fde"/>
<line x1="943.2" y1="467.7" x2="958.5" y2="536.6" stroke="#4d9fdf"/>
<line x1="958.5" y1="536.6" x2="949.5" y2="568.7" stroke="#4d9fdf"/>
<line x1="949.5" y1="568.7" x2="965.2" y2="619.2" stroke="#4d9fdf"/>
<line x1="965.2" y1="619.2" x2="979.4" y2="573.3" stroke="#4da0e0"/>
<line x1="979.4" y1="573.3" x2="1005.1" y2="596.3" stroke="#4ea0e0"/>
<line x1="1005.1" y1="596.3" x2="994.0" y2="573.3" stroke="#4ea0e0"/>
<line x1="994.0" y1="573.3" x2="983.8" y2="573.3" stroke="#4ea0e1"/>
<line x1="983.8" y1="573.3" x2="979.0" y2="564.1" stroke="#4ea1e1"/>
<line x1="979.0" y1="564.1" x2="983.5" y2="577.9" stroke="#4ea1e1"/>
<line x1="983.5" y1="577.9" x2="989.6" y2="582.5" stroke="#4ea1e2"/>
<line x1="989.6" y1="582.5" x2="998.4" y2="550.3" stroke="#4ea1e2"/>
<line x1="998.4" y1="550.3" x2="961.1" y2="522.8" stroke="#4ea2e2"/>
<line x1="961.1" y1="522.8" x2="931.6" y2="527.4" stroke="#4fa2e3"/>
<line x1="931.6" y1="527.4" x2="933.9" y2="532.0" stroke="#4fa2e3"/>
<line x1="933.9" y1="532.0" x2="943.7" y2="527.4" stroke="#4fa2e3"/>
<line x1="943.7" y1="527.4" x2="937.7" y2="536.6" stroke="#4fa3e4"/>
<line x1="937.7" y1="536.6" x2="932.2" y2="541.1" stroke="#4fa3e4"/>
<line x1="932.2" y1="541.1" x2="974.8" y2="541.1" stroke="#4fa3e4"/>
<line x1="974.8" y1="541.1" x2="918.0" y2="518.2" stroke="#4fa3e5"/>
<line x1="918.0" y1="518.2" x2="891.7" y2="504.4" stroke="#4fa4e5"/>
<line x1="891.7" y1="504.4" x2="876.4" y2="495.2" stroke="#50a4e5"/>
<line x1="876.4" y1="495.2" x2="869.4" y2="522.8" stroke="#50a4e6"/>
<line x1="869.4" y1="522.8" x2="885.6" y2="527.4" stroke="#50a4e6"/>
<line x1="885.6" y1="527.4" x2="877.2" y2="527.4" stroke="#50a5e6"/>
<line x1="877.2" y1="527.4" x2="884.8" y2="513.6" stroke="#50a5e7"/>
<line x1="884.8" y1="513.6" x2="869.0" y2="509.0" stroke="#50a5e7"/>
<line x1="869.0" y1="509.0" x2="872.6" y2="513.6" stroke="#50a5e8"/>
<line x1="872.6" y1="513.6" x2="881.9" y2="532.0" stroke="#50a6e8"/>
<line x1="881.9" y1="532.0" x2="854.3" y2="532.0" stroke="#51a6e8"/>
<line x1="854.3" y1="532.0" x2="831.5" y2="522.8" stroke="#51a6e9"/>
<line x1="831.5" y1="522.8" x2="815.1" y2="486.0" stroke="#51a6e9"/>
<line x1="815.1" y1="486.0" x2="792.0" y2="476.9" stroke="#51a7e9"/>
<line x1="792.0" y1="476.9" x2="792.6" y2="476.9" stroke="#51a7ea"/>
<line x1="792.6" y1="476.9" x2="784.5" y2="453.9" stroke="#51a7ea"/>
<line x1="784.5" y1="453.9" x2="778.8" y2="444.7" stroke="#51a7ea"/>
<line x1="778.8" y1="444.7" x2="779.3" y2="440.1" stroke="#51a8eb"/>
<line x1="779.3" y1="440.1" x2="781.2" y2="426.3" stroke="#52a8eb"/>
<line x1="781.2" y1="426.3" x2="777.9" y2="467.7" stroke="#52a8eb"/>
<line x1="777.9" y1="467.7" x2="763.3" y2="476.9" stroke="#52a9ec"/>
<line x1="763.3" y1="476.9" x2="735.9" y2="467.7" stroke="#52a9ec"/>
<line x1="735.9" y1="467.7" x2="736.0" y2="440.1" stroke="#52a9ec"/>
<line x1="736.0" y1="440.1" x2="726.5" y2="398.8" stroke="#52a9ed"/>
<line x1="726.5" y1="398.8" x2="748.1" y2="293.1" stroke="#52aaed"/>
<line x1="748.1" y1="293.1" x2="760.6" y2="554.9" stroke="#52aaed"/>
<line x1="760.6" y1="554.9" x2="720.7" y2="577.9" stroke="#53aaee"/>
<line x1="720.7" y1="577.9" x2="700.6" y2="573.3" stroke="#53aaee"/>
<line x1="700.6" y1="573.3" x2="705.4" y2="550.3" stroke="#53abee"/>
<line x1="705.4" y1="550.3" x2="696.9" y2="536.6" stroke="#53abef"/>
<line x1="696.9" y1="536.6" x2="703.7" y2="532.0" stroke="#53abef"/>
<line x1="703.7" y1="532.0" x2="671.9" y2="541.1" stroke="#53abef"/>
<line x1="671.9" y1="541.1" x2="667.2" y2="536.6" stroke="#53acf0"/>
<line x1="667.2" y1="536.6" x2="666.0" y2="532.0" stroke="#53acf0"/>
<line x1="666.0" y1="532.0" x2="655.5" y2="554.9" stroke="#54acf0"/>
<line x1="655.5" y1="554.9" x2="628.8" y2="559.5" stroke="#54acf1"/>
<line x1="628.8" y1="559.5" x2="599.6" y2="550.3" stroke="#54adf1"/>
<line x1="599.6" y1="550.3" x2="584.0" y2="518.2" stroke="#54adf1"/>
<line x1="584.0" y1="518.2" x2="594.6" y2="509.0" stroke="#54adf2"/>
<line x1="594.6" y1="509.0" x2="596.4" y2="504.4" stroke="#54adf2"/>
<line x1="596.4" y1="504.4" x2="545.2" y2="504.4" stroke="#54aef3"/>
<line x1="545.2" y1="504.4" x2="556.5" y2="504.4" stroke="#54aef3"/>
<line x1="556.5" y1="504.4" x2="526.3" y2="504.4" stroke="#55aef3"/>
<line x1="526.3" y1="504.4" x2="536.9" y2="499.8" stroke="#55aef4"/>
<line x1="536.9" y1="499.8" x2="535.8" y2="513.6" stroke="#55aff4"/>
<line x1="535.8" y1="513.6" x2="510.2" y2="504.4" stroke="#55aff4"/>
<line x1="510.2" y1="504.4" x2="489.5" y2="513.6" stroke="#55aff5"/>
<line x1="489.5" y1="513.6" x2="496.5" y2="509.0" stroke="#55aff5"/>
<line x1="496.5" y1="509.0" x2="468.4" y2="495.2" stroke="#55b0f5"/>
<line x1="468.4" y1="495.2" x2="481.8" y2="490.6" stroke="#55b0f6"/>
<line x1="481.8" y1="490.6" x2="459.4" y2="481.4" stroke="#56b0f6"/>
<line x1="459.4" y1="481.4" x2="450.9" y2="504.4" stroke="#56b0f6"/>
<line x1="450.9" y1="504.4" x2="451.9" y2="495.2" stroke="#56b1f7"/>
</g>
</svg>
</body></html>
